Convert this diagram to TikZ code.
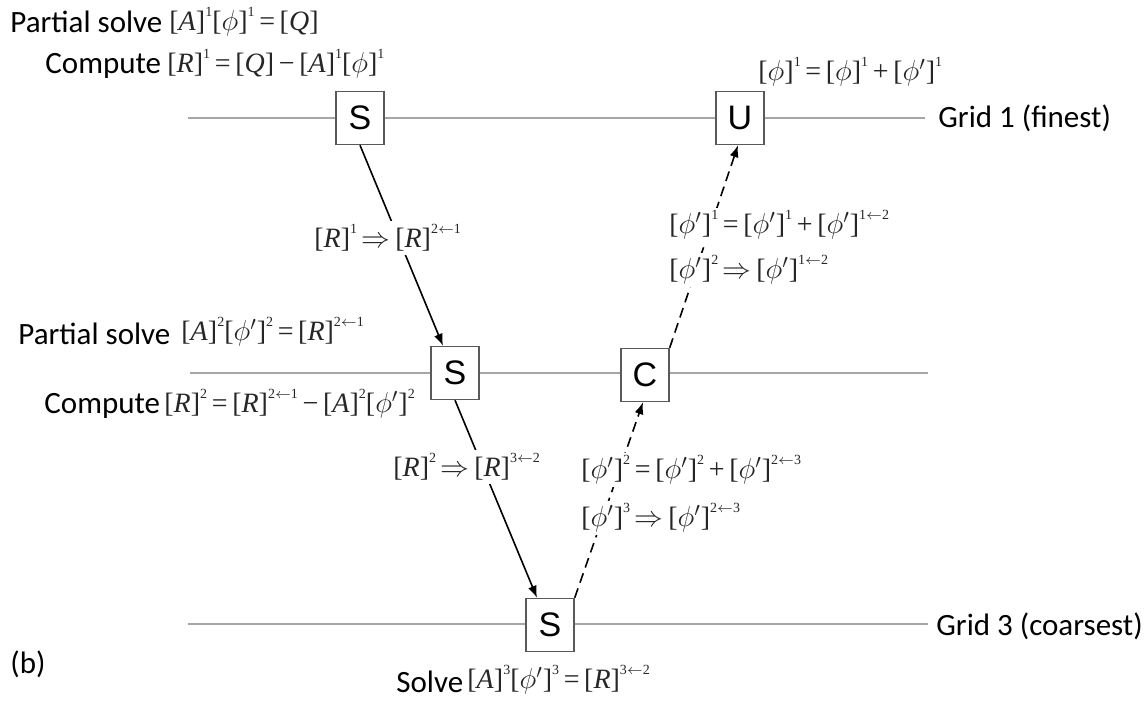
\documentclass[tikz,border=0pt]{standalone}
\usepackage{fontspec}
\setmainfont{Carlito}
\newfontfamily\eqf{Liberation Serif}
\newfontfamily\boxf{Liberation Sans}
\usetikzlibrary{arrows.meta}

% small raised level index
\newcommand{\lev}[1]{\raisebox{0.5em}{\fontsize{7}{8}\selectfont #1}}
% bracketed quantity with a level index, e.g. [A]^1
\newcommand{\tm}[2]{[\textit{#1}]\lev{#2}}
\newcommand{\fy}{$\phi$}
\newcommand{\fyp}{$\phi'$}
\newcommand{\imp}{\,$\Rightarrow$\,}
\newcommand{\la}{$\leftarrow$}
\newcommand{\eqs}{\,=\,}
\newcommand{\pls}{\,+\,}
\newcommand{\mns}{\,−\,}

\tikzset{
  gridline/.style={draw=black!35, line width=1pt},
  opbox/.style={draw=black!65, line width=0.7pt, fill=white,
    minimum width=24pt, minimum height=26.5pt, inner sep=0pt,
    font=\boxf\fontsize{17}{20}\selectfont},
  lbl/.style={inner sep=0pt, font=\fontsize{15.5}{18}\selectfont},
  eq/.style={inner sep=0.5pt, text=black!85,
    font=\eqf\fontsize{14}{16}\selectfont},
  eqbg/.style={eq, fill=white, inner sep=1.5pt},
  restrict/.style={line width=0.8pt, -{Latex[length=6pt,width=4.5pt]}},
  prolong/.style={line width=0.8pt, dash pattern=on 5pt off 3pt,
    -{Latex[length=6pt,width=4.5pt]}},
}

\begin{document}
\begin{tikzpicture}[x=0.5pt, y=-0.5pt]
\useasboundingbox (0,0) rectangle (1144,704);

% grid levels
\coordinate (g1a) at (188,118); \coordinate (g1b) at (925,118);
\coordinate (g2a) at (190,373); \coordinate (g2b) at (928,373);
\coordinate (g3a) at (188,624); \coordinate (g3b) at (928,624);
\draw[gridline] (g1a) -- (g1b);
\draw[gridline] (g2a) -- (g2b);
\draw[gridline] (g3a) -- (g3b);

\node[lbl, anchor=west] (grid1) at (938,118) {Grid 1 (finest)};
\node[lbl, anchor=west] (grid3) at (936,626) {Grid 3 (coarsest)};

% operations on each level
\node[opbox] (s1) at (360,118) {S};
\node[opbox] (u1) at (740,118) {U};
\node[opbox] (s2) at (455,373) {S};
\node[opbox] (c2) at (645,375) {C};
\node[opbox] (s3) at (550,625) {S};

% restriction (down) and prolongation (up)
\draw[restrict] (s1.south) -- ([xshift=-6pt]s2.north);
\draw[restrict] (s2.south) -- ([xshift=-6.5pt]s3.north);
\draw[prolong] (s3.north east) -- ([xshift=-1pt]c2.south);
\draw[prolong] (c2.north east) -- ([xshift=-1pt]u1.south);

% level 1 texts
\node[lbl, anchor=west] (ps1) at (10,22) {Partial solve};
\node[eq, anchor=west] (ps1e) at (168,22) {\tm{A}{1}\tm{\fy}{1}\eqs[\textit{Q}]};
\node[lbl, anchor=west] (cp1) at (45,66) {Compute};
\node[eq, anchor=west] (cp1e) at (166,64) {\tm{R}{1}\eqs[\textit{Q}]\mns\tm{A}{1}\tm{\fy}{1}};
\node[eq, anchor=west] (up1e) at (757,72) {\tm{\fy}{1}\eqs\tm{\fy}{1}\pls\tm{\fyp}{1}};

% transfer texts between levels 1 and 2
\node[eqbg, anchor=west] (r12) at (311,238) {\tm{R}{1}\imp\tm{R}{2\la1}};
\node[eqbg, anchor=west] (p21a) at (666,225) {\tm{\fyp}{1}\eqs\tm{\fyp}{1}\pls\tm{\fyp}{1\la2}};
\node[eqbg, anchor=west] (p21b) at (666,270) {\tm{\fyp}{2}\imp\tm{\fyp}{1\la2}};

% level 2 texts
\node[lbl, anchor=west] (ps2) at (18,334) {Partial solve};
\node[eq, anchor=west] (ps2e) at (180,332) {\tm{A}{2}\tm{\fyp}{2}\eqs\tm{R}{2\la1}};
\node[lbl, anchor=west] (cp2) at (44,406) {Compute};
\node[eq, anchor=west] (cp2e) at (163,404) {\tm{R}{2}\eqs\tm{R}{2\la1}\mns\tm{A}{2}\tm{\fyp}{2}};

% transfer texts between levels 2 and 3
\node[eqbg, anchor=west] (r23) at (390,467) {\tm{R}{2}\imp\tm{R}{3\la2}};
\node[eqbg, anchor=west] (p32a) at (578,470) {\tm{\fyp}{2}\eqs\tm{\fyp}{2}\pls\tm{\fyp}{2\la3}};
\node[eqbg, anchor=west] (p32b) at (578,518) {\tm{\fyp}{3}\imp\tm{\fyp}{2\la3}};

% level 3 texts
\node[lbl, anchor=west] (sv3) at (396,682) {Solve};
\node[eq, anchor=west] (sv3e) at (466,680) {\tm{A}{3}\tm{\fyp}{3}\eqs\tm{R}{3\la2}};
\node[lbl, anchor=west] (tag) at (10,664) {(b)};
\end{tikzpicture}
\end{document}
